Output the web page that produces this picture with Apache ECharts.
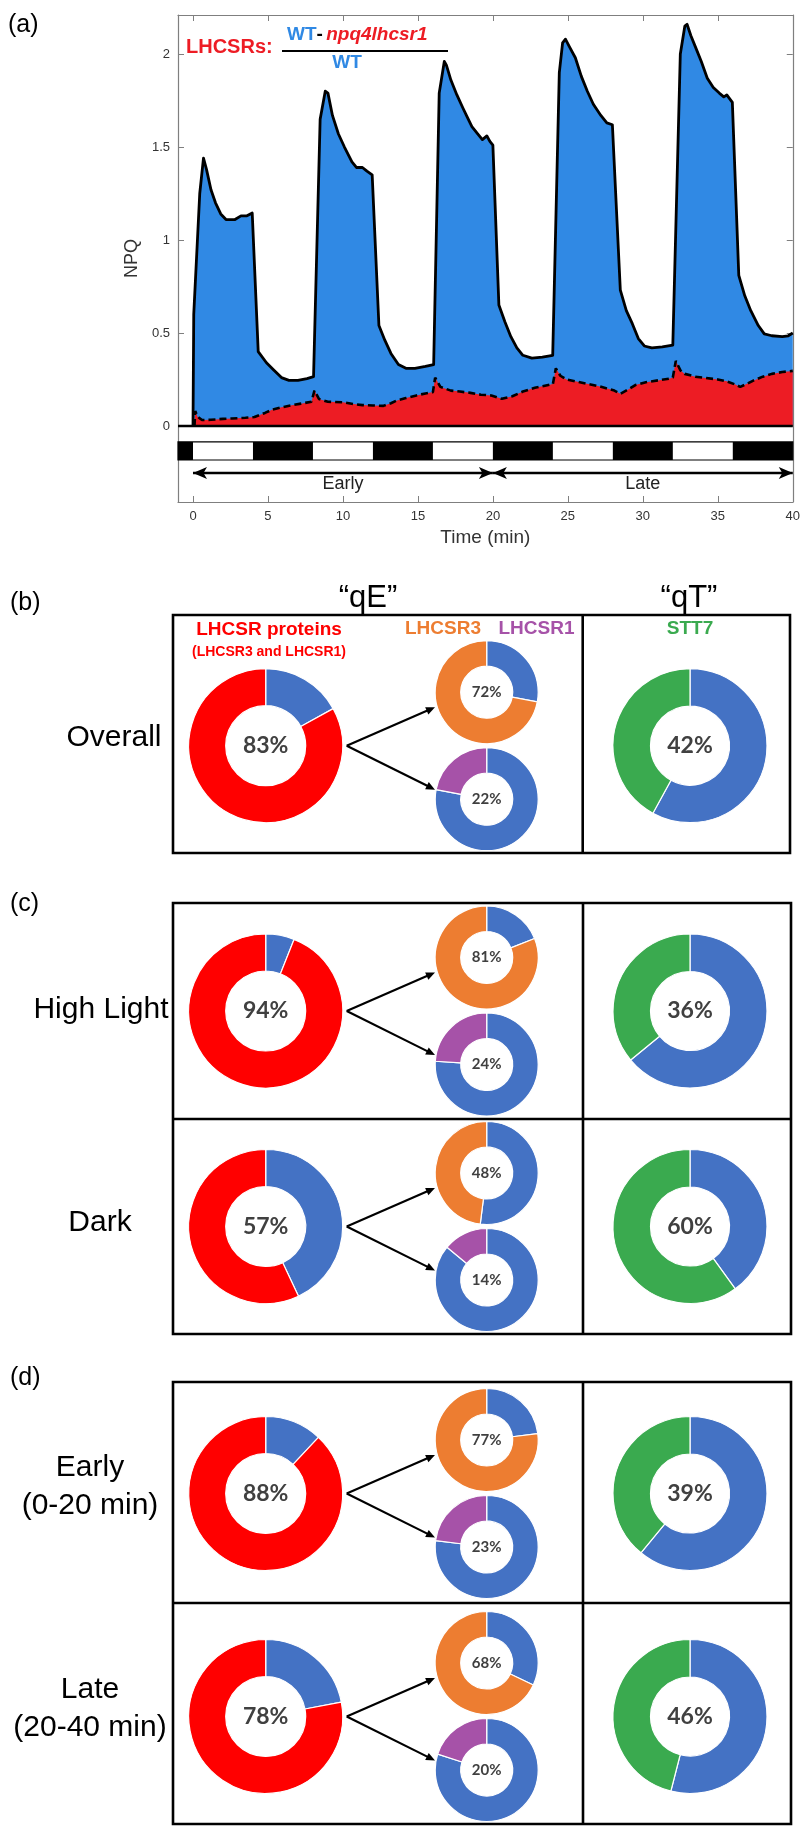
<!DOCTYPE html>
<html>
<head>
<meta charset="utf-8">
<script src="https://cdn.jsdelivr.net/npm/echarts@6/dist/echarts.min.js"></script>
<style>
html,body{margin:0;padding:0;background:#fff;}
#c{width:803px;height:1826px;}
</style>
</head>
<body>
<div id="c"></div>
<script>
// ---------------- DATA ----------------
// Panel (a): NPQ of WT and LHCSR contribution over time (min)
const wtTime = [0, 0.05, 0.45, 0.7, 0.9, 1.2, 1.5, 1.85, 2.2, 2.8, 3.2, 3.6, 3.95, 4.35, 4.9, 5.4, 5.9, 6.4, 7.0, 7.6, 8.04, 8.48, 8.82, 9.0, 9.3, 9.7, 10.1, 10.6, 10.9, 11.3, 11.6, 11.95, 12.4, 12.8, 13.2, 13.7, 14.2, 14.8, 15.5, 16.05, 16.42, 16.76, 16.9, 17.2, 17.6, 18.0, 18.3, 18.6, 19.0, 19.3, 19.6, 19.8, 20.0, 20.4, 20.8, 21.2, 21.6, 22.0, 22.6, 23.3, 23.99, 24.43, 24.65, 24.84, 25.1, 25.5, 25.9, 26.3, 26.7, 27.2, 27.6, 27.97, 28.5, 28.9, 29.3, 29.7, 30.1, 30.6, 31.3, 32.0, 32.5, 32.8, 32.95, 33.2, 33.5, 33.9, 34.3, 34.7, 35.1, 35.4, 35.6, 35.97, 36.4, 36.8, 37.2, 37.7, 38.1, 38.6, 39.3, 39.7, 40];
const wtNPQ = [0, 0.6, 1.25, 1.44, 1.38, 1.27, 1.2, 1.14, 1.11, 1.11, 1.13, 1.13, 1.145, 0.40, 0.34, 0.30, 0.26, 0.245, 0.245, 0.255, 0.265, 1.65, 1.80, 1.79, 1.67, 1.57, 1.50, 1.42, 1.39, 1.39, 1.37, 1.35, 0.54, 0.46, 0.39, 0.33, 0.31, 0.31, 0.32, 0.33, 1.79, 1.96, 1.94, 1.86, 1.78, 1.71, 1.66, 1.61, 1.57, 1.54, 1.56, 1.53, 1.51, 0.65, 0.56, 0.48, 0.42, 0.38, 0.365, 0.37, 0.38, 1.90, 2.06, 2.08, 2.04, 1.98, 1.88, 1.80, 1.73, 1.67, 1.63, 1.62, 0.73, 0.62, 0.55, 0.47, 0.43, 0.42, 0.425, 0.435, 2.0, 2.15, 2.16, 2.10, 2.04, 1.96, 1.87, 1.82, 1.79, 1.77, 1.78, 1.74, 0.81, 0.70, 0.62, 0.54, 0.495, 0.485, 0.48, 0.485, 0.50];
const lhcsrTime = [0.1, 0.15, 0.3, 0.6, 1.2, 2.0, 2.6, 3.5, 4.1, 4.8, 5.3, 5.9, 6.5, 7.2, 7.9, 8.1, 8.4, 9.0, 10.0, 10.7, 11.3, 12.0, 12.7, 13.2, 13.6, 14.2, 14.9, 15.5, 16.0, 16.15, 16.5, 17.2, 17.8, 18.5, 19.2, 19.9, 20.6, 21.3, 22.0, 22.8, 23.7, 24.0, 24.2, 24.5, 24.9, 25.5, 26.2, 27.0, 27.7, 28.1, 28.5, 29.0, 29.5, 30.2, 31.0, 31.8, 32.0, 32.2, 32.5, 32.8, 33.5, 34.2, 35.0, 35.6, 36.1, 36.5, 36.9, 37.4, 38.0, 38.6, 39.3, 40];
const lhcsrNPQ = [0, 0.08, 0.05, 0.032, 0.033, 0.038, 0.04, 0.044, 0.048, 0.07, 0.088, 0.10, 0.11, 0.12, 0.13, 0.19, 0.145, 0.13, 0.127, 0.118, 0.112, 0.11, 0.108, 0.122, 0.137, 0.15, 0.164, 0.175, 0.182, 0.26, 0.21, 0.19, 0.185, 0.178, 0.168, 0.164, 0.146, 0.16, 0.185, 0.205, 0.22, 0.225, 0.31, 0.27, 0.25, 0.24, 0.228, 0.215, 0.2, 0.19, 0.173, 0.195, 0.22, 0.235, 0.245, 0.255, 0.26, 0.35, 0.3, 0.28, 0.265, 0.258, 0.25, 0.24, 0.225, 0.21, 0.225, 0.245, 0.265, 0.28, 0.29, 0.296];
const darkStart = [-1, 4, 12, 20, 28, 36];
const darkEnd   = [0, 8, 16, 24, 32, 40];
const phaseNames = ['Early', 'Late'];
const phaseStart = [0, 20];
const phaseEnd   = [20, 40];
const xTicks = [0, 5, 10, 15, 20, 25, 30, 35, 40];
const yTicks = [0, 0.5, 1, 1.5, 2];

// Panels (b)-(d): donut percentages
const rowLabels = ['Overall', 'High Light', 'Dark', 'Early\n(0-20 min)', 'Late\n(20-40 min)'];
const lhcsrPct  = [83, 94, 57, 88, 78];
const lhcsr3Pct = [72, 81, 48, 77, 68];
const lhcsr1Pct = [22, 24, 14, 23, 20];
const stt7Pct   = [42, 36, 60, 39, 46];

// ---------------- STYLE / LAYOUT ----------------
const C = {
  wtFill: '#3089E4', lhFill: '#ED1C24',
  blue: '#4472C4', red: '#FF0000', orange: '#ED7D31', purple: '#A652A8', green: '#3AAA4F',
  pctText: '#404040', axis: '#7f7f7f', tickText: '#333'
};
const SANS = '"Liberation Sans", Arial, sans-serif';
const yMin = -0.409, yMax = 2.21;
const stripeTop = -0.086, stripeBot = -0.183, arrowY = -0.253, phaseTextY = -0.315;

const rowCY = [745.7, 1011, 1226.5, 1493.5, 1716.5];
const rowLabelX = [114, 101, 100, 90, 90];
const rowLabelY = [738, 1010, 1223, 1487, 1709];
const bigX = 265.7, smallX = 486.7, qtX = 690;
const bigR = [40, 77], smallR = [26, 51.5], qtR = [39.5, 77];

const chart = echarts.init(document.getElementById('c'), null, {renderer: 'canvas'});

const zip = (a, b) => a.map((v, i) => [v, b[i]]);

const G = [];
function text(x, y, str, font, fill, align) {
  G.push({type: 'text', x: x, y: y, silent: true, z: 10,
    style: {text: str, font: font, fill: fill || '#000',
      textAlign: align || 'center', align: align || 'center',
      textVerticalAlign: 'middle', verticalAlign: 'middle'}});
}
function line(x1, y1, x2, y2, w, color) {
  G.push({type: 'line', silent: true, z: 10, shape: {x1, y1, x2, y2},
    style: {stroke: color || '#000', lineWidth: w}});
}
function arrow(x1, y1, x2, y2) {
  const dx = x2 - x1, dy = y2 - y1, L = Math.hypot(dx, dy);
  const ux = dx / L, uy = dy / L, hl = 9, hw = 4;
  const bx = x2 - ux * hl, by = y2 - uy * hl;
  line(x1, y1, bx + ux * 2, by + uy * 2, 2.2);
  G.push({type: 'polygon', silent: true, z: 10,
    shape: {points: [[x2, y2], [bx - uy * hw, by + ux * hw], [bx + uy * hw, by - ux * hw]]},
    style: {fill: '#000'}});
}
function frame(x, y, w, h) {
  G.push({type: 'rect', silent: true, z: 9, shape: {x, y, width: w, height: h},
    style: {fill: 'none', stroke: '#000', lineWidth: 2.6}});
}

// Panel labels
text(8, 25, '(a)', '25px ' + SANS, '#000', 'left');
text(10, 603, '(b)', '25px ' + SANS, '#000', 'left');
text(10, 904, '(c)', '25px ' + SANS, '#000', 'left');
text(10, 1378, '(d)', '25px ' + SANS, '#000', 'left');

// Fraction legend in (a)
text(186, 47, 'LHCSRs:', 'bold 20px ' + SANS, C.lhFill, 'left');
G.push({type: 'text', x: 287, y: 35, silent: true, z: 10,
  style: {text: '{b|WT}{k|-} {r|npq4lhcsr1}', align: 'left', textAlign: 'left',
    verticalAlign: 'middle', textVerticalAlign: 'middle',
    rich: {
      b: {fontFamily: SANS, fontWeight: 'bold', fontSize: 19, fill: C.wtFill, color: C.wtFill},
      k: {fontFamily: SANS, fontWeight: 'bold', fontSize: 19, fill: '#000', color: '#000'},
      r: {fontFamily: SANS, fontWeight: 'bold', fontStyle: 'italic', fontSize: 19, fill: C.lhFill, color: C.lhFill}
    }}});
line(282, 51, 448, 51, 2.2);
text(347, 63, 'WT', 'bold 19px ' + SANS, C.wtFill);

// Headers of (b)
text(368, 598, '\u201CqE\u201D', '31px ' + SANS);
text(689, 598, '\u201CqT\u201D', '31px ' + SANS);
text(269, 630, 'LHCSR proteins', 'bold 19px ' + SANS, C.red);
text(269, 652, '(LHCSR3 and LHCSR1)', 'bold 14px ' + SANS, C.red);
text(443, 629, 'LHCSR3', 'bold 19px ' + SANS, C.orange);
text(536.5, 629, 'LHCSR1', 'bold 19px ' + SANS, C.purple);
text(690, 629, 'STT7', 'bold 19px ' + SANS, C.green);

// Frames
frame(173, 615, 617, 238); line(582.7, 615, 582.7, 853, 2.6);
frame(173, 903, 618, 431); line(583, 903, 583, 1334, 2.6); line(173, 1119, 791, 1119, 2.6);
frame(173, 1382, 618, 442); line(583, 1382, 583, 1824, 2.6); line(173, 1603, 791, 1603, 2.6);

// Row labels + arrows
rowLabels.forEach((lab, i) => {
  const parts = lab.split('\n');
  if (parts.length === 1) text(rowLabelX[i], rowLabelY[i], lab, '30px ' + SANS);
  else {
    text(rowLabelX[i], rowLabelY[i] - 19, parts[0], '30px ' + SANS);
    text(rowLabelX[i], rowLabelY[i] + 19, parts[1], '30px ' + SANS);
  }
  const cy = rowCY[i];
  arrow(346.7, cy, 435, cy - 38.5);
  arrow(346.7, cy, 435, cy + 44);
});

// Donut series
function donut(cx, cy, r, pct, color, fontSize) {
  return {
    type: 'pie', center: [cx, cy], radius: r, startAngle: 90, clockwise: true,
    silent: true, avoidLabelOverlap: false, labelLine: {show: false},
    itemStyle: {borderColor: '#fff', borderWidth: 1.2},
    emphasis: {disabled: true},
    data: [
      {value: 100 - pct, name: 'other', itemStyle: {color: C.blue}, label: {show: false}},
      {value: pct, name: 'share', itemStyle: {color: color},
        label: {show: true, position: 'center', formatter: pct + '%',
          fontFamily: 'Lato, ' + SANS, fontWeight: 'bold', fontSize: fontSize, color: C.pctText}}
    ]
  };
}
const pies = [];
rowCY.forEach((cy, i) => {
  pies.push(donut(bigX, cy, bigR, lhcsrPct[i], C.red, 23));
  pies.push(donut(smallX, cy - 53.5, smallR, lhcsr3Pct[i], C.orange, 15));
  pies.push(donut(smallX, cy + 53.5, smallR, lhcsr1Pct[i], C.purple, 15));
  pies.push(donut(qtX, cy, qtR, stt7Pct[i], C.green, 23));
});

// Stripe (dark/light) and phase arrows through axis coordinates
const stripeAreas = [[{xAxis: -1, yAxis: stripeTop, itemStyle: {color: '#fff', borderColor: '#000', borderWidth: 1.2}}, {xAxis: 40, yAxis: stripeBot}]];
darkStart.forEach((s, i) => stripeAreas.push([{xAxis: s, yAxis: stripeTop, itemStyle: {color: '#000', borderWidth: 0}}, {xAxis: darkEnd[i], yAxis: stripeBot}]));
const phaseLines = phaseNames.map((n, i) => [{coord: [phaseStart[i], arrowY]}, {coord: [phaseEnd[i], arrowY]}]);
const phaseLabels = phaseNames.map((n, i) => ({name: n, coord: [(phaseStart[i] + phaseEnd[i]) / 2, phaseTextY]}));

const axisCommon = {
  type: 'value', min: -1, max: 40,
  axisLine: {show: true, onZero: false, lineStyle: {color: C.axis, width: 1.2}},
  splitLine: {show: false}
};
const yCommon = {
  type: 'value', min: yMin, max: yMax,
  axisLine: {show: true, onZero: false, lineStyle: {color: C.axis, width: 1.2}},
  splitLine: {show: false}
};

const option = {
  animation: false,
  backgroundColor: '#fff',
  grid: {left: 178, top: 15, width: 616, height: 487, containLabel: false},
  xAxis: [
    Object.assign({}, axisCommon, {position: 'bottom',
      name: 'Time (min)', nameLocation: 'middle', nameGap: 26,
      nameTextStyle: {fontFamily: SANS, fontSize: 19, color: C.tickText},
      axisTick: {show: true, inside: true, length: 6, customValues: xTicks, lineStyle: {color: C.axis}},
      axisLabel: {show: true, customValues: xTicks, margin: 8, fontFamily: SANS, fontSize: 13, color: C.tickText}}),
    Object.assign({}, axisCommon, {position: 'top',
      axisTick: {show: true, inside: true, length: 6, customValues: xTicks, lineStyle: {color: C.axis}},
      axisLabel: {show: false}})
  ],
  yAxis: [
    Object.assign({}, yCommon, {position: 'left',
      name: 'NPQ', nameLocation: 'middle', nameGap: 25, nameRotate: 90,
      nameTextStyle: {fontFamily: SANS, fontSize: 18, color: C.tickText},
      axisTick: {show: true, inside: true, length: 6, customValues: yTicks, lineStyle: {color: C.axis}},
      axisLabel: {show: true, customValues: yTicks, margin: 8, fontFamily: SANS, fontSize: 13, color: C.tickText,
        formatter: v => String(v)}}),
    Object.assign({}, yCommon, {position: 'right',
      axisTick: {show: true, inside: true, length: 6, customValues: yTicks, lineStyle: {color: C.axis}},
      axisLabel: {show: false}})
  ],
  series: [
    {
      name: 'WT', type: 'line', data: zip(wtTime, wtNPQ), showSymbol: false, symbol: 'none',
      z: 2, silent: true,
      lineStyle: {color: '#000', width: 2.8, join: 'round'},
      areaStyle: {color: C.wtFill, opacity: 1, origin: 0}
    },
    {
      name: 'LHCSRs', type: 'line', data: zip(lhcsrTime, lhcsrNPQ), showSymbol: false, symbol: 'none',
      z: 3, silent: true,
      lineStyle: {color: '#000', width: 2.6, type: [7, 4]},
      areaStyle: {color: C.lhFill, opacity: 1, origin: 0}
    },
    {
      name: 'baseline', type: 'line', data: [[-1, 0], [40, 0]], showSymbol: false, symbol: 'none',
      z: 4, silent: true,
      lineStyle: {color: '#000', width: 2.6},
      markArea: {silent: true, data: stripeAreas, label: {show: false}},
      markLine: {silent: true, symbol: ['arrow', 'arrow'], symbolSize: [9, 14],
        lineStyle: {color: '#000', width: 2.4, type: 'solid'},
        label: {show: false}, data: phaseLines},
      markPoint: {silent: true, symbol: 'circle', symbolSize: 1, itemStyle: {color: 'rgba(0,0,0,0)'},
        label: {show: true, position: 'inside', formatter: '{b}', fontFamily: SANS, fontSize: 18, color: '#222'},
        data: phaseLabels}
    }
  ].concat(pies),
  graphic: G
};
chart.setOption(option);
</script>
</body>
</html>
